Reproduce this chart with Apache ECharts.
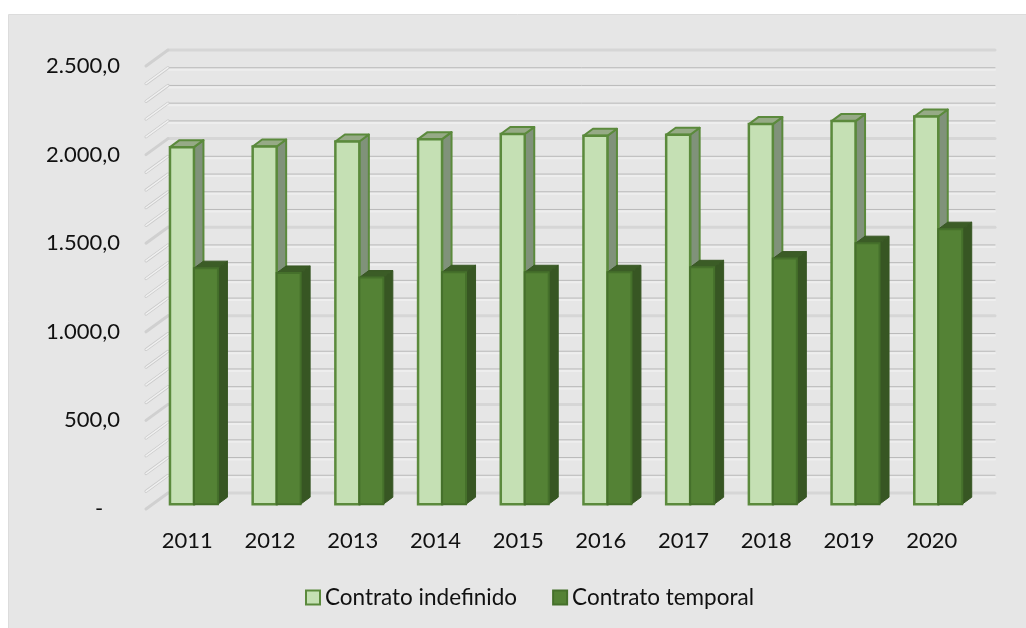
<!DOCTYPE html>
<html>
<head>
<meta charset="utf-8">
<style>
    html, body { margin: 0; padding: 0; background: #fff; }
    #chart { width: 1026px; height: 628px; }
</style>
<script src="https://cdn.jsdelivr.net/npm/echarts@6/dist/echarts.min.js"></script>
</head>
<body>
<div id="chart"></div>
<script>
const years = ['2011', '2012', '2013', '2014', '2015', '2016', '2017', '2018', '2019', '2020'];
const indefinido = [2015, 2019, 2047, 2060, 2089, 2079, 2085, 2145, 2162, 2188];
const temporal = [1332, 1305, 1279, 1309, 1309, 1309, 1337, 1386, 1473, 1552];
const gridValues = [0, 100, 200, 300, 400, 500, 600, 700, 800, 900, 1000, 1100, 1200,
    1300, 1400, 1500, 1600, 1700, 1800, 1900, 2000, 2100, 2200, 2300, 2400, 2500];

// depth of the fake 3d box, pixels from front plane to back wall
const wallDx = 22, wallDy = -16;
const barDx = 6.6, barDy = -4.8;
const depthDx = 9.5, depthDy = -7;

function poly(points, fill, stroke, width) {
    return {
        type: 'polygon',
        shape: {points: points},
        style: {fill: fill, stroke: stroke, lineWidth: width, lineJoin: 'round'}
    };
}

function line(x1, y1, x2, y2, color, width) {
    return {
        type: 'line',
        shape: {x1: x1, y1: y1, x2: x2, y2: y2},
        style: {stroke: color, lineWidth: width, lineCap: 'round'}
    };
}

function renderGrid(params, api) {
    const value = api.value(0);
    const sys = params.coordSys;
    const y = api.coord([0, value])[1];
    const left = sys.x, right = sys.x + sys.width;
    const major = value % 500 === 0;
    const items = [];
    if (major) {
        items.push(line(left + wallDx, y + wallDy, right + wallDx, y + wallDy, '#d6d6d6', 3));
        items.push(line(left, y, left + wallDx, y + wallDy, '#d0d0d0', 3));
    } else {
        items.push(line(left + wallDx, y + wallDy + 2, right + wallDx, y + wallDy + 2, '#eeeeee', 2));
        items.push(line(left + wallDx, y + wallDy, right + wallDx, y + wallDy, '#bababa', 1));
        items.push(line(left, y, left + wallDx, y + wallDy, '#cacaca', 3));
        items.push(line(left, y, left + wallDx, y + wallDy, '#f0f0f0', 1.5));
    }
    return {type: 'group', children: items};
}

function renderBar(colors, slot) {
    return function (params, api) {
        const idx = api.value(0);
        const band = api.size([1, 0])[0];
        const w = band * 0.29;
        const x0 = api.coord([idx, 0])[0] - w + barDx + slot * w;
        const x1 = x0 + w;
        const yBase = api.coord([idx, 0])[1] + barDy;
        const yTop = api.coord([idx, api.value(1)])[1] + barDy;
        return {
            type: 'group',
            children: [
                poly([[x1, yTop], [x1 + depthDx, yTop + depthDy], [x1 + depthDx, yBase + depthDy], [x1, yBase]],
                    colors.side, colors.edge, colors.edgeWidth),
                poly([[x0, yTop], [x0 + depthDx, yTop + depthDy], [x1 + depthDx, yTop + depthDy], [x1, yTop]],
                    colors.top, colors.edge, colors.edgeWidth),
                {
                    type: 'rect',
                    shape: {x: x0, y: yTop, width: w, height: yBase - yTop},
                    style: {fill: colors.front, stroke: colors.frontEdge, lineWidth: colors.frontWidth}
                }
            ]
        };
    };
}

const lightColors = {front: '#c5e0b4', frontEdge: '#5b8a3c', frontWidth: 2.5, side: '#80927a', top: '#96aa86', edge: '#5b8a3c', edgeWidth: 2};
const darkColors = {front: '#548235', frontEdge: '#45702b', frontWidth: 2, side: '#375623', top: '#3b5c26', edge: '#375623', edgeWidth: 1};

const chart = echarts.init(document.getElementById('chart'), null, {renderer: 'canvas'});
chart.setOption({
    animation: false,
    textStyle: {fontFamily: 'Lato'},
    graphic: [{
        type: 'rect',
        z: -10,
        shape: {x: 8.5, y: 14.5, width: 1030, height: 630},
        style: {fill: '#e6e6e6', stroke: '#dcdcdc', lineWidth: 1}
    }],
    legend: {
        left: 300,
        top: 581,
        itemWidth: 14,
        itemHeight: 14,
        itemGap: 35,
        icon: 'rect',
        textStyle: {color: '#111', fontSize: 22.5, fontFamily: 'Lato', padding: [0, 0, 4, 0]},
        data: [
            {name: 'Contrato indefinido', itemStyle: {color: '#c5e0b4', borderColor: '#5b8a3c', borderWidth: 2}},
            {name: 'Contrato temporal', itemStyle: {color: '#548235', borderColor: '#45702b', borderWidth: 2}}
        ]
    },
    grid: {left: 146, right: 53, top: 66, bottom: 119, containLabel: false},
    xAxis: {
        type: 'category',
        data: years,
        axisLine: {show: false},
        axisTick: {show: false},
        axisLabel: {color: '#111', fontSize: 22, fontFamily: 'Lato', margin: 21}
    },
    yAxis: {
        type: 'value',
        min: 0,
        max: 2500,
        interval: 500,
        axisLine: {show: false},
        axisTick: {show: false},
        splitLine: {show: false},
        axisLabel: {
            color: '#111',
            fontSize: 22,
            fontFamily: 'Lato',
            margin: 26,
            padding: [7, 0, 0, 0],
            formatter: function (v) {
                if (v === 0) return '-   ';
                const s = v.toFixed(1).replace('.', ',');
                return s.replace(/\B(?=(\d{3})(?!\d))/, '.');
            }
        }
    },
    series: [
        {
            type: 'custom',
            silent: true,
            z: 1,
            renderItem: renderGrid,
            encode: {y: 0},
            data: gridValues.map(v => [v])
        },
        {
            name: 'Contrato indefinido',
            type: 'custom',
            z: 2,
            renderItem: renderBar(lightColors, 0),
            encode: {x: 0, y: 1},
            data: indefinido.map((v, i) => [i, v])
        },
        {
            name: 'Contrato temporal',
            type: 'custom',
            z: 3,
            renderItem: renderBar(darkColors, 1),
            encode: {x: 0, y: 1},
            data: temporal.map((v, i) => [i, v])
        }
    ]
});
</script>
</body>
</html>
